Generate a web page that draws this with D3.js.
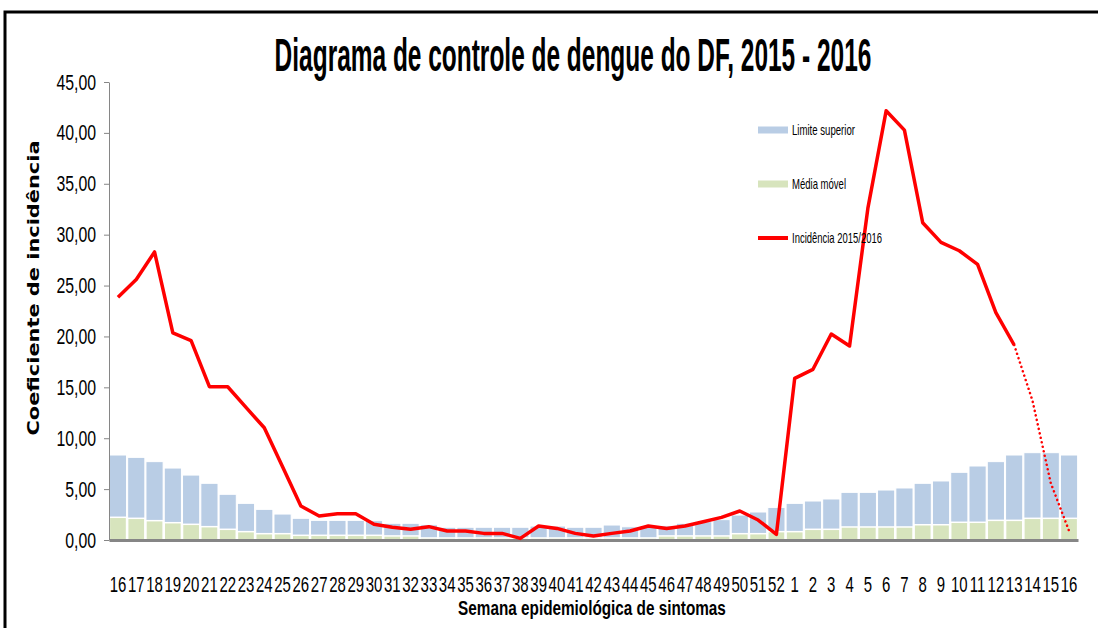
<!DOCTYPE html>
<html>
<head>
<meta charset="utf-8">
<script src="https://cdn.jsdelivr.net/npm/d3@7"></script>
<style>
  body { margin: 0; background: #fff; }
  svg { display: block; }
</style>
</head>
<body>
<script>
// semanas epidemiologicas: 16..52 de 2015 e 1..16 de 2016
var weeks = ["16","17","18","19","20","21","22","23","24","25","26","27","28","29","30","31","32","33","34","35","36","37","38","39","40","41","42","43","44","45","46","47","48","49","50","51","52",
             "1","2","3","4","5","6","7","8","9","10","11","12","13","14","15","16"];

var limiteSuperior = [8.35,8.12,7.7,7.07,6.38,5.57,4.49,3.6,3.01,2.55,2.13,1.93,1.93,1.93,1.9,1.64,1.64,1.5,1.25,1.25,1.25,1.25,1.25,1.37,1.37,1.25,1.25,1.47,1.3,1.37,1.4,1.64,1.8,2.0,2.45,2.75,3.2,
                      3.6,3.83,4.03,4.68,4.68,4.91,5.11,5.57,5.8,6.65,7.27,7.7,8.35,8.58,8.58,8.35];

var mediaMovel = [2.23,2.13,1.9,1.7,1.54,1.31,1.05,0.82,0.62,0.62,0.46,0.46,0.46,0.46,0.46,0.4,0.4,0.2,0.2,0.2,0.2,0.2,0.2,0.2,0.2,0.2,0.2,0.2,0.2,0.2,0.4,0.4,0.4,0.4,0.62,0.62,0.82,
                  0.82,1.05,1.05,1.28,1.28,1.28,1.28,1.5,1.5,1.74,1.74,1.93,1.93,2.13,2.13,2.13];

// incidencia 2015/2016 (ate a semana 13 de 2016)
var incidencia = [23.84,25.6,28.3,20.36,19.58,15.06,15.06,13.03,11.03,7.2,3.34,2.36,2.58,2.58,1.54,1.25,1.05,1.31,0.88,0.88,0.65,0.65,0.16,1.37,1.14,0.65,0.39,0.65,0.88,1.37,1.14,1.37,1.8,2.22,2.85,1.96,0.56,
                  15.88,16.77,20.24,19.06,32.58,42.17,40.27,31.17,29.24,28.42,27.08,22.33,19.16];

// semanas 13 a 16 de 2016, dados provisorios (linha pontilhada)
var incidenciaProvisoria = [19.16,13.7,5.6,0.9];

var yTicks = [0,5,10,15,20,25,30,35,40,45];

var legendItems = ["Limite superior", "Média móvel", "Incidência 2015/2016"];
var legendWidths = [63, 54, 90];

var width = 1098, height = 628;
var plotLeft = 109, plotRight = 1078, plotTop = 82, plotBottom = 540;
var squeeze = 0.72; // fonte do excel e bem estreita

var svg = d3.select("body")
    .append("svg")
    .attr("width", width)
    .attr("height", height);

// moldura
svg.append("path")
    .attr("d", "M5," + height + "V12H" + width)
    .attr("fill", "none")
    .attr("stroke", "#000")
    .attr("stroke-width", 3);

var xScale = d3.scaleBand()
    .domain(d3.range(weeks.length))
    .range([plotLeft, plotRight])
    .paddingInner(0.06)
    .paddingOuter(0.02);

var yScale = d3.scaleLinear()
    .domain([0, 45])
    .range([plotBottom, plotTop]);

var ptBR = d3.formatLocale({decimal: ",", thousands: ".", grouping: [3], currency: ["R$", ""]});

var font = "'Liberation Sans', Arial, sans-serif";

// texto estreitado: mede e comprime na horizontal ate a largura pedida
function narrowText(sel, cx, w) {
    var natural = sel.node().getComputedTextLength();
    var s = w / natural;
    sel.attr("x", cx / s).attr("transform", "scale(" + s + ",1)");
}

// barras
var g = svg.append("g");
g.selectAll("rect.limite")
    .data(limiteSuperior)
    .join("rect")
    .attr("class", "limite")
    .attr("x", function(d, i) { return xScale(i); })
    .attr("y", function(d) { return yScale(d); })
    .attr("width", xScale.bandwidth())
    .attr("height", function(d) { return plotBottom - yScale(d); })
    .style("fill", "#B9CDE5")
    .style("stroke", "#fff")
    .style("stroke-width", 1);

g.selectAll("rect.media")
    .data(mediaMovel)
    .join("rect")
    .attr("class", "media")
    .attr("x", function(d, i) { return xScale(i); })
    .attr("y", function(d) { return yScale(d); })
    .attr("width", xScale.bandwidth())
    .attr("height", function(d) { return plotBottom - yScale(d); })
    .style("fill", "#D7E4BD")
    .style("stroke", "#fff")
    .style("stroke-width", 1.5);

// eixo y
var yAxis = svg.append("g")
    .attr("transform", "translate(" + plotLeft + ",0)")
    .call(d3.axisLeft(yScale).tickValues(yTicks).tickFormat(ptBR.format(".2f")).tickSize(5).tickSizeOuter(0));
yAxis.select(".domain").attr("stroke", "#868686");
yAxis.selectAll(".tick line").attr("stroke", "#868686");
yAxis.selectAll("text")
    .attr("x", -13 / squeeze)
    .attr("transform", "scale(" + squeeze + ",1)")
    .style("font-family", font)
    .style("font-size", "22px")
    .attr("fill", "#000");

// eixo x
var xAxis = svg.append("g")
    .attr("transform", "translate(0," + plotBottom + ")")
    .call(d3.axisBottom(xScale).tickFormat(function(i) { return weeks[i]; }).tickSize(0).tickSizeOuter(0).tickPadding(36));
xAxis.select(".domain").attr("stroke", "#868686").attr("stroke-width", 3);
xAxis.selectAll("text")
    .attr("transform", "scale(" + (squeeze - 0.04) + ",1)")
    .style("font-family", font)
    .style("font-size", "22px")
    .attr("fill", "#000");

// linha de incidencia
var cx = function(i) { return xScale(i) + xScale.bandwidth() / 2; };
var line = d3.line()
    .x(function(d) { return cx(d[0]); })
    .y(function(d) { return yScale(d[1]); });

svg.append("path")
    .datum(incidencia.map(function(v, i) { return [i, v]; }))
    .attr("d", line)
    .attr("fill", "none")
    .attr("stroke", "#FF0000")
    .attr("stroke-width", 3.5)
    .attr("stroke-linejoin", "round");

var start = incidencia.length - 1;
svg.append("path")
    .datum(incidenciaProvisoria.map(function(v, i) { return [start + i, v]; }))
    .attr("d", line)
    .attr("fill", "none")
    .attr("stroke", "#FF0000")
    .attr("stroke-width", 2.5)
    .attr("stroke-dasharray", "0.1 4.5")
    .attr("stroke-linecap", "round");

// titulos
var title = svg.append("text")
    .attr("y", 71)
    .attr("text-anchor", "middle")
    .style("font-family", font)
    .style("font-weight", "bold")
    .style("font-size", "46px")
    .text("Diagrama de controle de dengue do DF, 2015 - 2016");
narrowText(title, 573, 597);

var xTitle = svg.append("text")
    .attr("y", 615)
    .attr("text-anchor", "middle")
    .style("font-family", font)
    .style("font-weight", "bold")
    .style("font-size", "21px")
    .text("Semana epidemiológica de sintomas");
narrowText(xTitle, 592, 268);

svg.append("text")
    .attr("transform", "translate(39,288) rotate(-90)")
    .attr("text-anchor", "middle")
    .attr("textLength", 295)
    .attr("lengthAdjust", "spacingAndGlyphs")
    .style("font-family", "'DejaVu Sans', Verdana, sans-serif")
    .style("font-weight", "bold")
    .style("font-size", "15px")
    .text("Coeficiente de incidência");

// legenda
var legend = svg.append("g").attr("transform", "translate(758,130)");
legendItems.forEach(function(name, i) {
    var row = legend.append("g").attr("transform", "translate(0," + (i * 54) + ")");
    if (i < 2) {
        row.append("rect")
            .attr("x", 0).attr("y", -3.5)
            .attr("width", 30).attr("height", 7)
            .style("fill", i == 0 ? "#B9CDE5" : "#D7E4BD");
    } else {
        row.append("line")
            .attr("x1", 0).attr("x2", 30)
            .attr("stroke", "#FF0000")
            .attr("stroke-width", 4);
    }
    row.append("text")
        .attr("x", 34)
        .attr("dy", "0.35em")
        .attr("textLength", legendWidths[i])
        .attr("lengthAdjust", "spacingAndGlyphs")
        .style("font-family", font)
        .style("font-size", "15px")
        .text(name);
});
</script>
</body>
</html>
